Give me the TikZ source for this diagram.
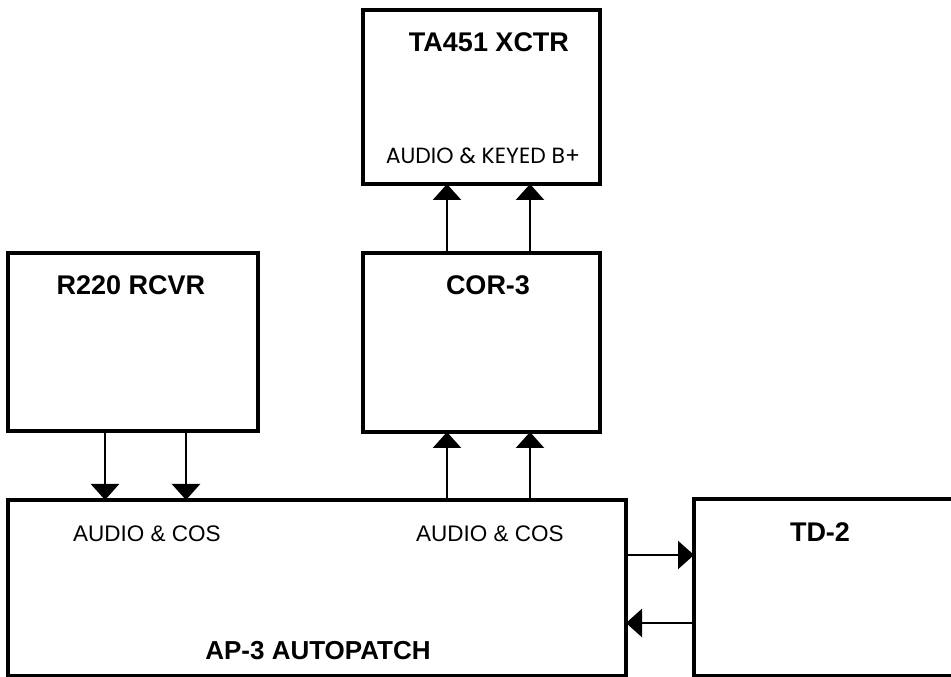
\documentclass[tikz,border=0pt]{standalone}
\usepackage{fontspec}
\setmainfont{Liberation Sans}
\newfontfamily\gothic{Poppins}
\usetikzlibrary{arrows.meta}
\tikzset{
  blk/.style={draw=black, line width=4pt, fill=none, inner sep=0pt, outer sep=0pt},
  ttl/.style={font=\fontsize{27}{30}\selectfont\bfseries, anchor=base, inner sep=0pt},
  sub/.style={font=\fontsize{22.5}{26}\selectfont, anchor=base, inner sep=0pt},
  arr/.style={line width=2.5pt, -{Triangle[length=16pt,width=28pt]}}
}
\begin{document}
\begin{tikzpicture}[x=1pt,y=1pt]
\useasboundingbox (0,0) rectangle (951,677);
% boxes
\node[blk, minimum width=237pt, minimum height=174pt] (ta) at (481.5,580) {};
\node[blk, minimum width=237pt, minimum height=179pt] (cor) at (481.5,334.5) {};
\node[blk, minimum width=250pt, minimum height=178pt] (rcv) at (133,335) {};
\node[blk, minimum width=618pt, minimum height=176pt] (ap) at (317,89) {};
\node[blk, minimum width=270pt, minimum height=177pt] (td) at (829,89.5) {};
% labels
\node[ttl] (tat) at (489,625) {TA451 XCTR};
\node[sub, font=\gothic\fontsize{22}{26}\selectfont] (tas) at (483,513) {AUDIO \& KEYED B+};
\node[ttl] (rct) at (131,382) {R220 RCVR};
\node[ttl] (cot) at (488,382) {COR-3};
\node[ttl] (tdt) at (820,135) {TD-2};
\node[sub] (aps1) at (147,135) {AUDIO \& COS};
\node[sub] (aps2) at (490,135) {AUDIO \& COS};
\node[ttl, font=\fontsize{26}{29}\selectfont\bfseries] (apt) at (318,17) {AP-3 AUTOPATCH};
% connector guide coordinates
\coordinate (x1) at (105,0);
\coordinate (x2) at (186,0);
\coordinate (x3) at (447,0);
\coordinate (x4) at (530,0);
\coordinate (y1) at (0,122);
\coordinate (y2) at (0,54);
% connectors
\draw[arr] (rcv.south -| x1) -- (ap.north -| x1);
\draw[arr] (rcv.south -| x2) -- (ap.north -| x2);
\draw[arr] (ap.north -| x3) -- (cor.south -| x3);
\draw[arr] (ap.north -| x4) -- (cor.south -| x4);
\draw[arr] (cor.north -| x3) -- (ta.south -| x3);
\draw[arr] (cor.north -| x4) -- (ta.south -| x4);
\draw[arr] (ap.east |- y1) -- (td.west |- y1);
\draw[arr] (td.west |- y2) -- (ap.east |- y2);
\end{tikzpicture}
\end{document}
